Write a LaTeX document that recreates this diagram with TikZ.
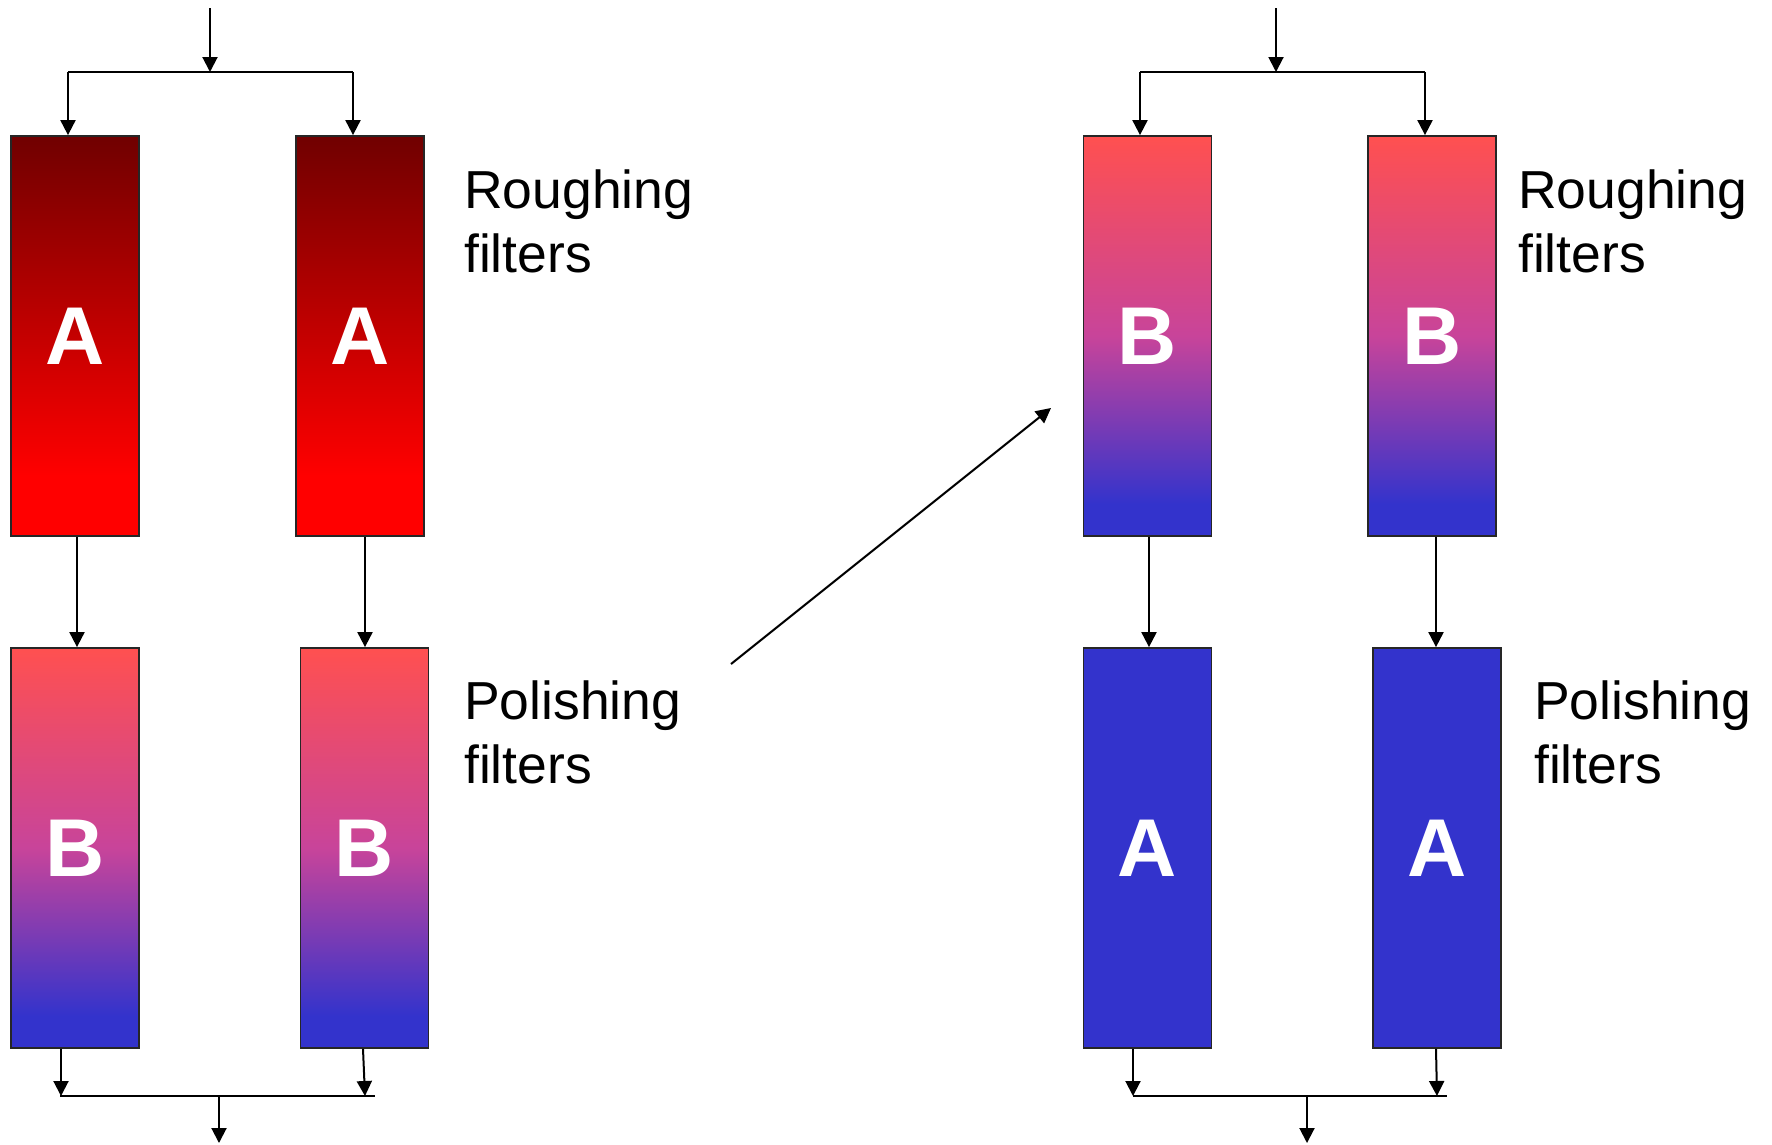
\documentclass[tikz,border=0pt]{standalone}
\usepackage{fontspec}
\setmainfont{Liberation Sans}
\usetikzlibrary{arrows.meta}

\definecolor{darkA}{HTML}{700000}
\definecolor{redA}{HTML}{FF0000}
\definecolor{pinkB}{HTML}{FF5050}
\definecolor{midB}{HTML}{C8449A}
\definecolor{blueB}{HTML}{3333CC}

% filter media gradients (0bp = bottom, path spans 25bp..75bp)
\pgfdeclareverticalshading{mediaA}{100bp}{color(0bp)=(redA); color(25bp)=(redA); color(32.5bp)=(redA); color(75bp)=(darkA); color(100bp)=(darkA)}
\pgfdeclareverticalshading{mediaB}{100bp}{color(0bp)=(blueB); color(25bp)=(blueB); color(29bp)=(blueB); color(50bp)=(midB); color(75bp)=(pinkB); color(100bp)=(pinkB)}

\tikzset{
  filt/.style={draw=black!85, line width=1.8pt, minimum width=128pt, minimum height=400pt,
    inner sep=0pt, text=white, font=\fontsize{82}{82}\selectfont\bfseries},
  fa/.style={filt, shading=mediaA},
  fb/.style={filt, shading=mediaB},
  fsolid/.style={filt, fill=blueB},
  flow/.style={line width=2pt, -{Triangle[length=15pt,width=15pt]}},
  pipe/.style={line width=2pt},
  lbl/.style={font=\fontsize{53.5}{64}\selectfont, align=left, anchor=base west, inner sep=0pt}
}

\begin{document}
\begin{tikzpicture}[x=1pt,y=-1pt]
\useasboundingbox (0,0) rectangle (1772,1144);

% ---------- before: A roughing, B polishing ----------
\node[fa] (r1) at (75,336) {A};
\node[fa] (r2) at (360,336) {A};
\node[fb] (p1) at (75,848) {B};
\node[fb] (p2) at (364.5,848) {B};

\coordinate (inL) at (210,8);
\coordinate (hL) at (210,72);
\coordinate (sL1) at (68,72);
\coordinate (sL2) at (353,72);
\draw[flow] (inL) -- (hL);
\draw[pipe] (sL1) -- (sL2);
\draw[flow] (sL1) -- (sL1 |- r1.north);
\draw[flow] (sL2) -- (sL2 |- r2.north);
\draw[flow] (77,0 |- r1.south) -- (77,0 |- p1.north);
\draw[flow] (365,0 |- r2.south) -- (365,0 |- p2.north);

\coordinate (cL1) at (61,1096);
\coordinate (cL2) at (365,1096);
\coordinate (cLe) at (375,1096);
\coordinate (oL) at (219,1096);
\coordinate (outL) at (219,1143);
\draw[flow] (61,0 |- p1.south) -- (cL1);
\draw[flow] (363,0 |- p2.south) -- (cL2);
\draw[pipe] (60,1096) -- (cLe);
\draw[flow] (oL) -- (outL);

% base anchor sits on the last line's baseline
\node[lbl] (lr1) at (464,272) {Roughing\\filters};
\node[lbl] (lp1) at (464,783) {Polishing\\filters};

% ---------- after: B roughing, A polishing ----------
\node[fb] (r3) at (1147.5,336) {B};
\node[fb] (r4) at (1432,336) {B};
\node[fsolid] (p3) at (1147.5,848) {A};
\node[fsolid] (p4) at (1437,848) {A};

\coordinate (inR) at (1276,8);
\coordinate (hR) at (1276,72);
\coordinate (sR1) at (1140,72);
\coordinate (sR2) at (1425,72);
\draw[flow] (inR) -- (hR);
\draw[pipe] (sR1) -- (sR2);
\draw[flow] (sR1) -- (sR1 |- r3.north);
\draw[flow] (sR2) -- (sR2 |- r4.north);
\draw[flow] (1149,0 |- r3.south) -- (1149,0 |- p3.north);
\draw[flow] (1436,0 |- r4.south) -- (1436,0 |- p4.north);

\coordinate (cR1) at (1133,1096);
\coordinate (cR2) at (1437,1096);
\coordinate (cRe) at (1447,1096);
\coordinate (oR) at (1307,1096);
\coordinate (outR) at (1307,1143);
\draw[flow] (1133,0 |- p3.south) -- (cR1);
\draw[flow] (1436,0 |- p4.south) -- (cR2);
\draw[pipe] (cR1) -- (cRe);
\draw[flow] (oR) -- (outR);

\node[lbl] (lr2) at (1518,272) {Roughing\\filters};
\node[lbl] (lp2) at (1534,783) {Polishing\\filters};

% swap arrow
\coordinate (swFrom) at (731,664);
\coordinate (swTo) at (1051,408);
\draw[flow] (swFrom) -- (swTo);
\end{tikzpicture}
\end{document}
